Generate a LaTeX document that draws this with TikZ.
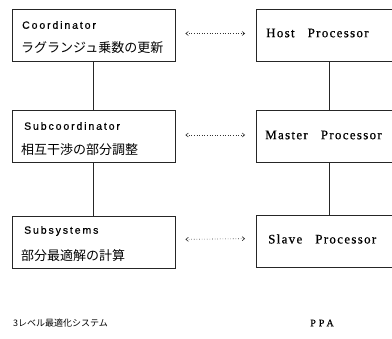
\documentclass[tikz,border=0pt]{standalone}
\usepackage{fontspec}
\setmainfont{Liberation Serif}
\newfontfamily\jpfont{Noto Sans CJK JP}
\newfontfamily\lsans[LetterSpace=18,FakeBold=0.6]{Liberation Sans}
\newfontfamily\rserif[LetterSpace=10,FakeBold=0.6]{Liberation Serif}
\usetikzlibrary{arrows.meta}
\begin{document}
\begin{tikzpicture}[x=1pt,y=-1pt,
  box/.style={draw=black!85,line width=0.8pt,minimum width=163pt,minimum height=52pt,inner sep=0pt},
  lat/.style={anchor=west,inner sep=0pt,font=\lsans\fontsize{10.5}{12}\selectfont},
  jp/.style={anchor=west,inner sep=0pt,font=\jpfont\fontsize{13}{15}\selectfont},
  rt/.style={anchor=west,inner sep=0pt,font=\rserif\fontsize{13}{15}\selectfont},
  link/.style={draw=black!85,line width=0.8pt},
  dots/.style={draw=black!80,line width=0.6pt,dotted,{Straight Barb[length=2.5pt,width=4pt]}-{Straight Barb[length=2.5pt,width=4pt]},shorten <=10pt,shorten >=11pt}]
\clip (0,0) rectangle (392,339);
\useasboundingbox (0,0) rectangle (392,339);
\fill[white] (0,0) rectangle (392,339);
% left column
\node[box] (c) at (93.5,35.5) {};
\node[box] (s) at (93.5,136.5) {};
\node[box] (b) at (93.5,242) {};
\node[lat] (c1) at (22,25) {Coordinator};
\node[jp]  (c2) at (21,48) {ラグランジュ乗数の更新};
\node[lat] (s1) at (24,126) {Subcoordinator};
\node[jp]  (s2) at (21,150) {相互干渉の部分調整};
\node[lat] (b1) at (24,231) {Subsystems};
\node[jp]  (b2) at (21,256) {部分最適解の計算};
% right column
\node[box] (h) at (338,35.5) {};
\node[box] (m) at (338,136.5) {};
\node[box] (sl) at (338,241) {};
\node[rt] (h1) at (266,33) {Host\quad Processor};
\node[rt] (m1) at (265,135) {Master\quad Processor};
\node[rt] (sl1) at (268,239) {Slave\quad Processor};
% connectors
\draw[link] (c) -- (s);
\draw[link] (s) -- (b);
\draw[link] ([xshift=-9pt]h.south) -- ([xshift=-9pt]m.north);
\draw[link] ([xshift=-9pt]m.south) -- ([xshift=-9pt]sl.north);
\draw[dots] ([yshift=2pt]c.east) -- ([yshift=2pt]h.west);
\draw[dots] ([yshift=1.5pt]s.east) -- ([yshift=1.5pt]m.west);
\draw[dots] ([yshift=2.5pt]b.east) -- ([yshift=2.5pt]sl.west);
% captions
\node[anchor=west,inner sep=0pt,font=\jpfont\fontsize{9}{10}\selectfont] (cap1) at (13,323) {3レベル最適化システム};
\node[inner sep=0pt,font=\rserif\fontsize{10}{11}\selectfont\addfontfeature{LetterSpace=30}] (cap2) at (322,323) {PPA};
\end{tikzpicture}
\end{document}
